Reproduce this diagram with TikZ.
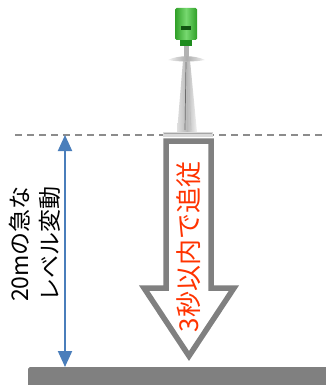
\documentclass[tikz,border=0pt]{standalone}
\usepackage{fontspec}
\newfontfamily\jpfont{Noto Sans CJK JP}
\usetikzlibrary{arrows.meta}
\definecolor{levelblue}{RGB}{74,126,187}
\definecolor{arrowgray}{RGB}{128,128,128}
\definecolor{dashgray}{RGB}{140,140,140}
\definecolor{alertred}{RGB}{255,51,0}
\definecolor{capgreen}{RGB}{60,200,50}
\definecolor{capdark}{RGB}{30,140,30}
\tikzset{
  jptext/.style={font=\jpfont\fontsize{23}{30}\selectfont, inner sep=0pt, rotate=90, align=center},
  bigjptext/.style={jptext, font=\jpfont\fontsize{26}{30}\selectfont},
  spanarrow/.style={levelblue, line width=2pt, {Triangle[width=14pt,length=16pt]}-{Triangle[width=14pt,length=16pt]}},
  hollowarrow/.style={draw=arrowgray, line width=5.5pt, fill=white, line join=miter, miter limit=10},
  levelline/.style={dashgray, line width=1.5pt, dash pattern=on 7pt off 5pt},
}
\begin{document}
\begin{tikzpicture}[x=1pt, y=-1pt]
  \useasboundingbox (0,0) rectangle (326,385);

  % reference level of the surface
  \draw[levelline] (15,135) -- (326,135);

  % ground / tank bottom
  \node[fill=arrowgray, rounded corners=1.5pt, minimum width=300pt, minimum height=20pt, inner sep=0pt, anchor=north west] (ground) at (28,367) {};

  % radar level sensor
  \begin{scope}
    % horn antenna
    \shade[left color=gray!25, right color=gray!10, middle color=gray!55] (183,60) -- (190,60) -- (197,132) -- (177,132) -- cycle;
    \draw[gray!85!black, line width=0.7pt] (186,62) -- (185,130);
    \draw[gray!50, line width=0.6pt] (188,62) -- (191,130);
    % mounting plate
    \fill[gray!30] (163,132) rectangle (213,137);
    \draw[gray!70, line width=0.8pt] (164,133) -- (212,133);
    % upper flange and stem
    \fill[gray!60] (184,44) rectangle (189,58);
    \shade[left color=gray!10, right color=gray!10, middle color=gray!65] (168,60) .. controls (178,55) and (195,55) .. (205,60) .. controls (195,62) and (178,62) .. (168,60) -- cycle;
    % housing
    \fill[capdark] (180,36) rectangle (192,46);
    \shade[left color=capgreen!80!black, right color=capgreen!80!black, middle color=capgreen!70!white, rounded corners=1.5pt] (175,8) rectangle (197,40);
    \fill[capdark!60!black] (181,26) rectangle (191,30);
  \end{scope}

  % span of the level change
  \coordinate (spantop) at (65,135);
  \coordinate (spanbot) at (65,367);
  \draw[spanarrow] (spantop) -- (spanbot);
  \node[jptext, text=black] (spanlabel) at (35,244) {20mの急な\\レベル変動};

  % tracking arrow
  \draw[hollowarrow] (166,141) -- (211,141) -- (211,288) -- (234,288) -- (189,356) -- (144,288) -- (166,288) -- cycle;
  \node[bigjptext, text=alertred] (tracklabel) at (189,247) {3秒以内で追従};
\end{tikzpicture}
\end{document}
